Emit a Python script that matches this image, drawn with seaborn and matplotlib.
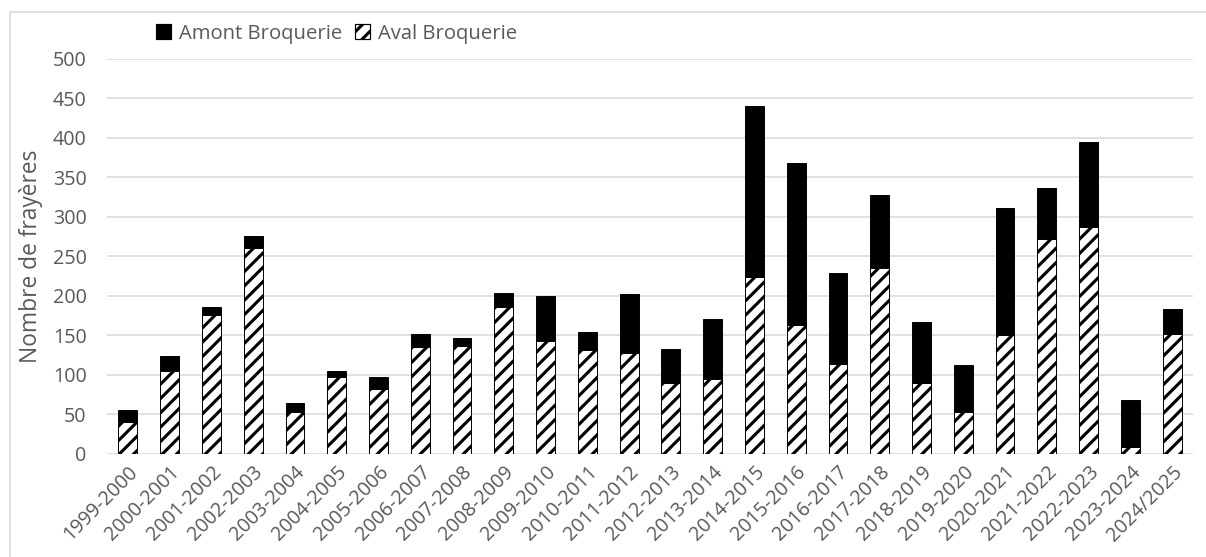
import pandas as pd
import seaborn as sns
import matplotlib.pyplot as plt
from matplotlib.patches import Patch
from matplotlib.lines import Line2D

# Seasons and counts
seasons = ['1999-2000', '2000-2001', '2001-2002', '2002-2003', '2003-2004', '2004-2005',
           '2005-2006', '2006-2007', '2007-2008', '2008-2009', '2009-2010', '2010-2011',
           '2011-2012', '2012-2013', '2013-2014', '2014-2015', '2015-2016', '2016-2017',
           '2017-2018', '2018-2019', '2019-2020', '2020-2021', '2021-2022', '2022-2023',
           '2023-2024', '2024/2025']
aval = [40, 104, 176, 261, 52, 97, 82, 135, 136, 186, 143, 131, 127, 89, 95, 224,
        163, 114, 235, 89, 52, 150, 272, 287, 8, 151]
amont = [15, 20, 10, 15, 12, 7, 15, 17, 10, 17, 57, 23, 75, 43, 75, 217,
         205, 115, 93, 78, 60, 161, 65, 108, 60, 32]

data = pd.DataFrame({'saison': seasons, 'aval': aval, 'amont': amont})
data['total'] = data['aval'] + data['amont']

sns.set_style("white")
plt.rcParams['font.family'] = ['Open Sans', 'DejaVu Sans']
plt.rcParams['hatch.linewidth'] = 2.6
plt.rcParams['hatch.color'] = 'black'

grey = '#595959'
DPI = 86
fig = plt.figure(figsize=(1206 / DPI, 557 / DPI), dpi=DPI)
ax = fig.add_axes([107 / 1206, 1 - 453.5 / 557, (1193 - 107) / 1206, (453.5 - 59) / 557])

# stacked bars: total in black, aval hatched over the bottom part
sns.barplot(data=data, x='saison', y='total', color='black', width=0.45,
            edgecolor='black', linewidth=0.8, saturation=1, ax=ax)
sns.barplot(data=data, x='saison', y='aval', color='white', width=0.45,
            edgecolor='black', linewidth=0.8, hatch='//', saturation=1, ax=ax)

ax.set_ylim(0, 500)
ax.set_yticks(range(0, 501, 50))
ax.grid(axis='y', color='#d9d9d9', linewidth=1.3)
ax.set_axisbelow(True)
for s in ax.spines.values():
    s.set_visible(False)
ax.tick_params(axis='both', length=0, colors=grey, labelsize=16.5)
ax.tick_params(axis='y', pad=17)
plt.setp(ax.get_xticklabels(), rotation=45, ha='right', rotation_mode='anchor')
ax.tick_params(axis='x', pad=7)
ax.set_xlabel('')
ax.set_ylabel('Nombre de frayères', fontsize=19, color=grey, labelpad=8)

# legend above the plot
handles = [Patch(facecolor='black', edgecolor='black'),
           Patch(facecolor='white', edgecolor='black', hatch='//')]
fig.legend(handles, ['Amont Broquerie', 'Aval Broquerie'], loc='center left',
           bbox_to_anchor=(148 / 1206, 1 - 34 / 557), ncol=2, frameon=False,
           fontsize=17, labelcolor=grey, handlelength=0.75, handleheight=0.75,
           handletextpad=0.4, columnspacing=0.6, borderaxespad=0)

# chart-area border (top and left visible)
fig.add_artist(Line2D([10 / 1206, 1], [1 - 12 / 557, 1 - 12 / 557],
                      transform=fig.transFigure, color='#d9d9d9', linewidth=1.3))
fig.add_artist(Line2D([10 / 1206, 10 / 1206], [0, 1 - 12 / 557],
                      transform=fig.transFigure, color='#d9d9d9', linewidth=1.3))

fig.savefig('out.png', dpi=DPI)
